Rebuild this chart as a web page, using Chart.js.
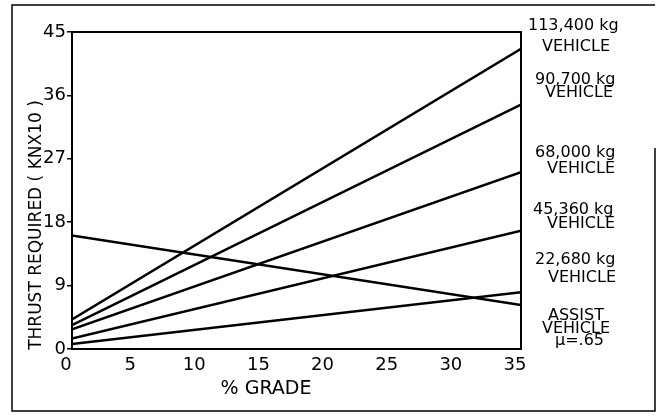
<!DOCTYPE html>
<html>
<head>
<meta charset="utf-8">
<script src="https://cdn.jsdelivr.net/npm/chart.js@4/dist/chart.umd.min.js"></script>
<style>
  html, body { margin: 0; padding: 0; background: #fff; }
  #wrap { width: 665px; height: 416px; position: relative; }
</style>
</head>
<body>
<div id="wrap"><canvas id="c" width="665" height="416"></canvas></div>
<script>
// ---- data ----
const grade = [0, 35];                       // % grade
const veh113400 = [4.2, 42.6];               // thrust (kN x 10)
const veh90700  = [3.4, 34.7];
const veh68000  = [2.8, 25.1];
const veh45360  = [1.5, 16.8];
const veh22680  = [0.7, 8.05];
const assistVeh = [16.1, 6.25];
const seriesNames = ["113,400 kg VEHICLE", "90,700 kg VEHICLE", "68,000 kg VEHICLE",
                     "45,360 kg VEHICLE", "22,680 kg VEHICLE", "ASSIST VEHICLE μ=.65"];
const xTicks = [0, 5, 10, 15, 20, 25, 30, 35];
const yTicks = [0, 9, 18, 27, 36, 45];
const xTitle = "% GRADE";
const yTitle = "THRUST REQUIRED ( KNX10 )";
const rightLabelLines = [
  ["113,400 kg", "VEHICLE"],
  ["90,700 kg", "VEHICLE"],
  ["68,000 kg", "VEHICLE"],
  ["45,360 kg", "VEHICLE"],
  ["22,680 kg", "VEHICLE"],
  ["ASSIST", "VEHICLE", "μ=.65"]
];

// ---- layout (pixel positions of annotation text) ----
const FONT = "'DejaVu Sans', sans-serif";
const labelPos = [
  [[528, 26], [542, 47]],
  [[535, 80], [545, 93]],
  [[535, 153], [547, 169]],
  [[533, 210], [547, 224]],
  [[535, 260], [548, 278]],
  [[548, 316], [542, 329], [555, 341]]
];

const allSeries = [veh113400, veh90700, veh68000, veh45360, veh22680, assistVeh];

const decorPlugin = {
  id: 'decor',
  afterDraw(chart) {
    const ctx = chart.ctx;
    const a = chart.chartArea;
    ctx.save();
    ctx.strokeStyle = '#000';
    // top and right edges of plot frame
    ctx.lineWidth = 2;
    ctx.beginPath();
    ctx.moveTo(a.left, a.top);
    ctx.lineTo(a.right, a.top);
    ctx.lineTo(a.right, a.bottom);
    ctx.stroke();
    // outer border
    ctx.lineWidth = 1.5;
    ctx.beginPath();
    ctx.moveTo(655, 148);
    ctx.lineTo(655, 411);
    ctx.lineTo(12, 411);
    ctx.lineTo(12, 5);
    ctx.lineTo(655, 5);
    ctx.stroke();
    // axis titles
    ctx.fillStyle = '#000';
    ctx.textBaseline = 'middle';
    ctx.textAlign = 'center';
    ctx.font = '19px ' + FONT;
    ctx.fillText(xTitle, 266, 389);
    ctx.save();
    ctx.translate(37, 225);
    ctx.rotate(-Math.PI / 2);
    ctx.font = '17px ' + FONT;
    ctx.fillText(yTitle, 0, 0);
    ctx.restore();
    // series labels on the right
    ctx.textAlign = 'left';
    ctx.font = '16px ' + FONT;
    rightLabelLines.forEach((lines, i) => {
      lines.forEach((t, j) => {
        const p = labelPos[i][j];
        ctx.fillText(t, p[0], p[1]);
      });
    });
    ctx.restore();
  }
};

new Chart(document.getElementById('c'), {
  type: 'scatter',
  data: {
    datasets: allSeries.map((s, i) => ({
      label: seriesNames[i],
      data: grade.map((g, k) => ({ x: g, y: s[k] })),
      showLine: true,
      borderColor: '#000',
      backgroundColor: '#000',
      borderWidth: 2.5,
      pointRadius: 0,
      fill: false
    }))
  },
  options: {
    responsive: false,
    animation: false,
    devicePixelRatio: 1,
    layout: { padding: { left: 0, top: 32, right: 144, bottom: 0 } },
    plugins: { legend: { display: false }, tooltip: { enabled: false } },
    scales: {
      x: {
        type: 'linear', min: 0, max: 35,
        afterBuildTicks: s => { s.ticks = xTicks.map(v => ({ value: v })); },
        afterFit: s => { s.height = 67; },
        ticks: { color: '#000', font: { family: FONT, size: 18 }, padding: 6, labelOffset: -6,
                 maxRotation: 0, autoSkip: false },
        grid: { display: false, drawTicks: false },
        border: { display: true, color: '#000', width: 2 }
      },
      y: {
        type: 'linear', min: 0, max: 45,
        afterBuildTicks: s => { s.ticks = yTicks.map(v => ({ value: v })); },
        afterFit: s => { s.width = 72; },
        ticks: { color: '#000', font: { family: FONT, size: 18 }, padding: 1 },
        grid: { display: true, drawOnChartArea: false, tickLength: 5, color: '#000', lineWidth: 1.5 },
        border: { display: true, color: '#000', width: 2 }
      }
    }
  },
  plugins: [decorPlugin]
});
</script>
</body>
</html>
